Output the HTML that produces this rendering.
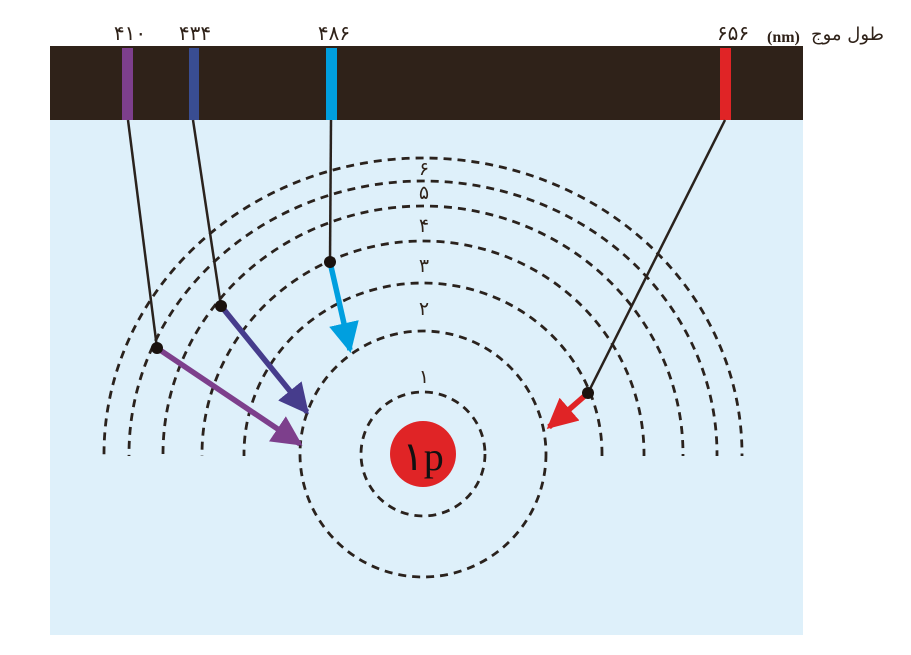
<!DOCTYPE html>
<html><head><meta charset="utf-8"><style>
html,body{margin:0;padding:0;background:#fff;width:911px;height:655px;overflow:hidden}
svg{display:block}
text{font-family:"Liberation Serif","DejaVu Sans",sans-serif}
</style></head><body>
<svg width="911" height="655" xmlns="http://www.w3.org/2000/svg">
<defs>
<clipPath id="top"><rect x="0" y="0" width="911" height="456"/></clipPath>
<marker id="mp" viewBox="0 0 10 10" refX="9" refY="5" markerWidth="5.5" markerHeight="5.5" orient="auto" markerUnits="strokeWidth"><path d="M0,0L10,5L0,10z" fill="#7d3f8c"/></marker>
<marker id="mb" viewBox="0 0 10 10" refX="9" refY="5" markerWidth="5.5" markerHeight="5.5" orient="auto" markerUnits="strokeWidth"><path d="M0,0L10,5L0,10z" fill="#463c8c"/></marker>
<marker id="mc" viewBox="0 0 10 10" refX="9" refY="5" markerWidth="5.5" markerHeight="5.5" orient="auto" markerUnits="strokeWidth"><path d="M0,0L10,5L0,10z" fill="#009fdf"/></marker>
<marker id="mr" viewBox="0 0 10 10" refX="9" refY="5" markerWidth="5.5" markerHeight="5.5" orient="auto" markerUnits="strokeWidth"><path d="M0,0L10,5L0,10z" fill="#e02426"/></marker>
</defs>
<rect x="50" y="120" width="753" height="515" fill="#def0fa"/>
<rect x="50" y="46" width="753" height="74" fill="#2f2219"/>
<rect x="122" y="48" width="11" height="72" fill="#7d3f8c"/>
<rect x="189" y="48" width="10" height="72" fill="#394d92"/>
<rect x="326" y="48" width="11" height="72" fill="#009fdf"/>
<rect x="720" y="48" width="11" height="72" fill="#e02426"/>
<g fill="#2f2219" font-size="20" text-anchor="middle">
<text x="130" y="40">۴۱۰</text><text x="195" y="40">۴۳۴</text><text x="334" y="40">۴۸۶</text><text x="733" y="40">۶۵۶</text>
</g>
<text x="767" y="42" font-size="16" fill="#2f2219" font-weight="bold">(nm)</text>
<text x="884" y="40" font-size="18" fill="#2f2219" text-anchor="end" style="font-family:'DejaVu Sans',sans-serif">طول موج</text>
<g fill="none" stroke="#2a221d" stroke-width="2.8" stroke-dasharray="8,6">
<circle cx="423" cy="454" r="62"/>
<circle cx="423" cy="454" r="123"/>
<g clip-path="url(#top)">
<ellipse cx="423" cy="454" rx="179" ry="171"/>
<ellipse cx="423" cy="454" rx="221" ry="213"/>
<ellipse cx="423" cy="454" rx="260" ry="248"/>
<ellipse cx="423" cy="454" rx="294" ry="273"/>
<ellipse cx="423" cy="454" rx="319" ry="296"/>
</g>
</g>
<g fill="#2f2219" font-size="19" text-anchor="middle">
<text x="424" y="175">۶</text><text x="424" y="199">۵</text><text x="424" y="232">۴</text><text x="424" y="272">۳</text><text x="424" y="315">۲</text><text x="424" y="383">۱</text>
</g>
<circle cx="423" cy="454" r="33" fill="#e02426"/>
<text x="423" y="470" font-size="40" text-anchor="middle" fill="#111">۱p</text>
<g stroke="#2a221d" stroke-width="2.5">
<line x1="128" y1="120" x2="157" y2="348"/>
<line x1="193" y1="120" x2="221" y2="306"/>
<line x1="331" y1="120" x2="330" y2="262"/>
<line x1="725" y1="120" x2="588" y2="393"/>
</g>
<g stroke-width="5.5">
<line x1="157" y1="348" x2="300" y2="444" stroke="#7d3f8c" marker-end="url(#mp)"/>
<line x1="221" y1="306" x2="307" y2="412" stroke="#463c8c" marker-end="url(#mb)"/>
<line x1="330" y1="262" x2="350" y2="350" stroke="#009fdf" marker-end="url(#mc)"/>
<line x1="588" y1="393" x2="549" y2="427" stroke="#e02426" marker-end="url(#mr)"/>
</g>
<g fill="#1a120e">
<circle cx="157" cy="348" r="6"/><circle cx="221" cy="306" r="6"/><circle cx="330" cy="262" r="6"/><circle cx="588" cy="393" r="6"/>
</g>
</svg>
</body></html>
